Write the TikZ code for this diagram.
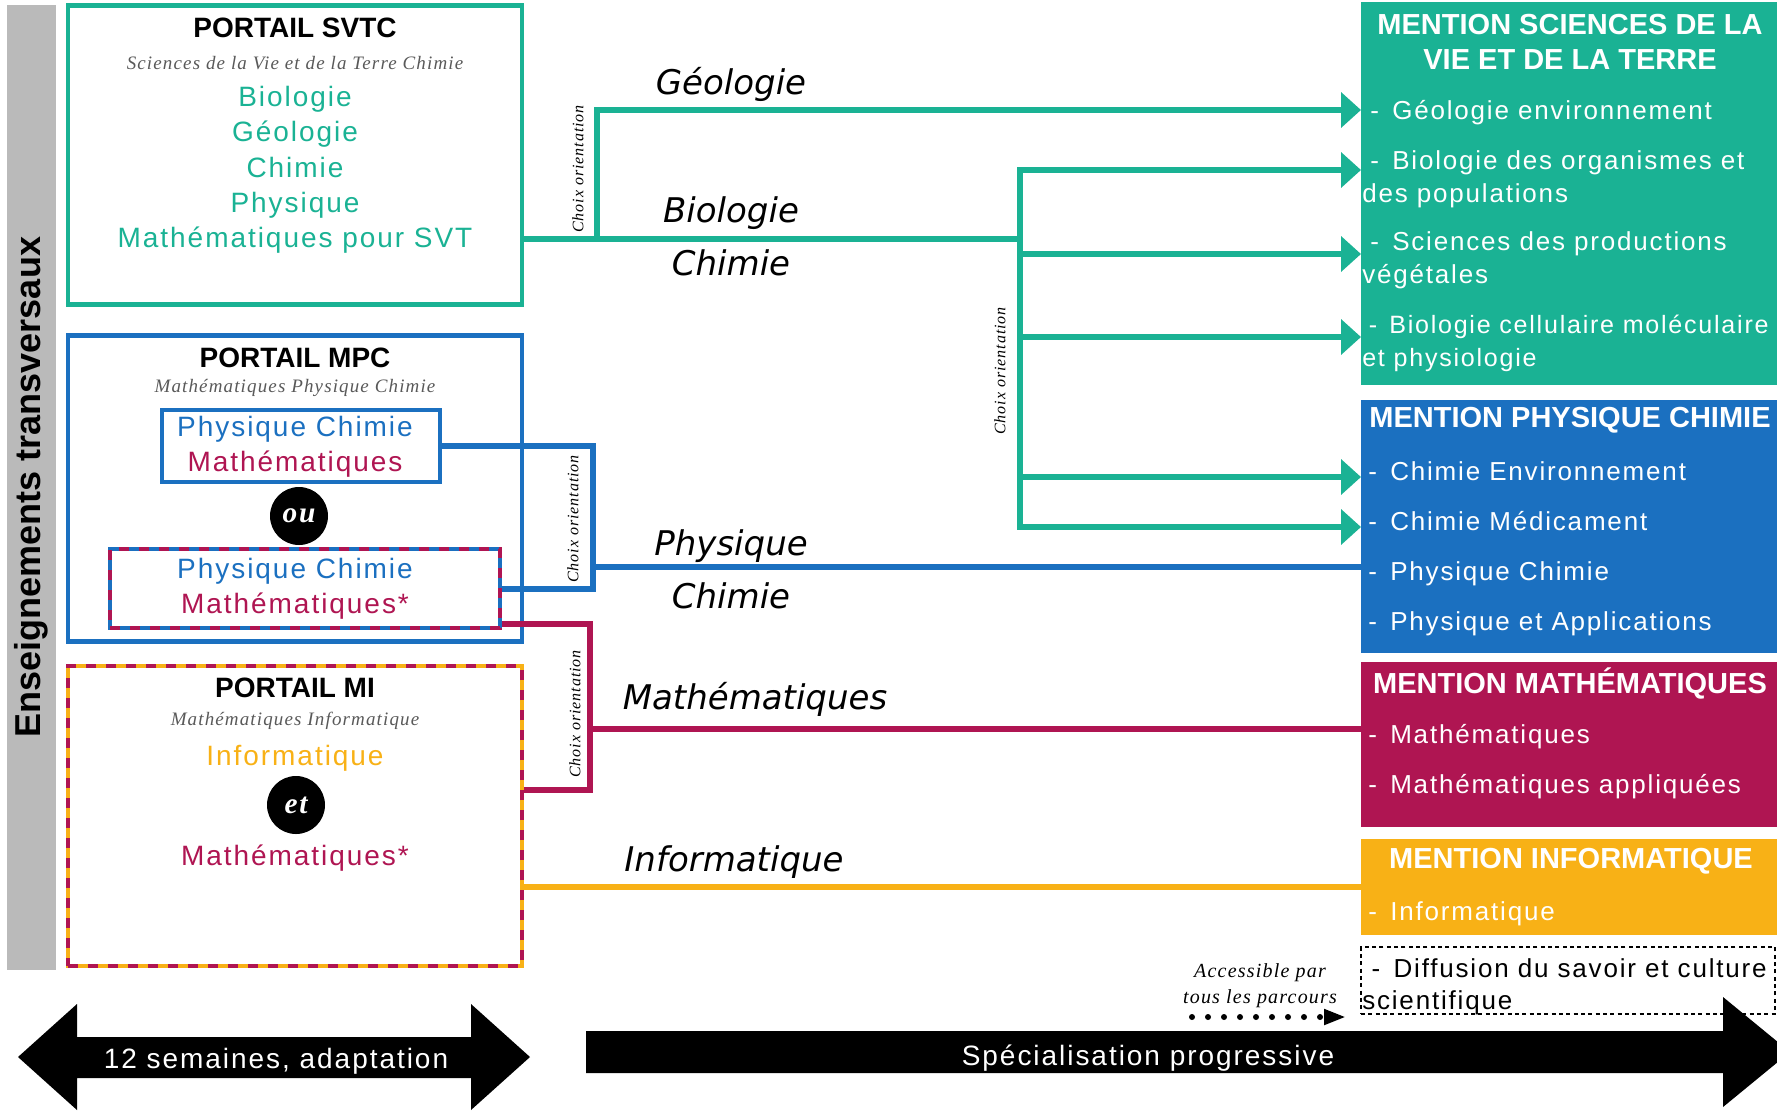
\documentclass[tikz,border=0pt]{standalone}
\usepackage{fontspec}
\setmainfont{Liberation Sans}
\newfontfamily\spacedfont{Liberation Sans}[LetterSpace=7]
\newfontfamily\notefont{Liberation Serif}[LetterSpace=6]
\newfontfamily\routefont{DejaVu Sans}
\usetikzlibrary{arrows.meta,fit}

\definecolor{svtgreen}{HTML}{1AB294}
\definecolor{pcblue}{HTML}{1B70C0}
\definecolor{mathred}{HTML}{AF1552}
\definecolor{infoorange}{HTML}{F8B116}
\definecolor{bargrey}{HTML}{BABABA}
\definecolor{subgrey}{HTML}{595959}

\begin{document}
\begin{tikzpicture}[x=0.75pt, y=-0.75pt,
    box/.style={inner sep=0pt, line width=3.5pt},
    mention/.style={inner sep=0pt, outer sep=0pt},
    portaltitle/.style={font=\fontsize{21}{25}\selectfont\bfseries},
    portalsub/.style={font=\notefont\fontsize{14.25}{17}\selectfont\itshape, text=subgrey},
    subject/.style={font=\spacedfont\fontsize{21}{26.5}\selectfont, align=center},
    bubble/.style={circle, fill=black, minimum size=43.5pt, inner sep=0pt, text=white, font=\notefont\fontsize{22}{24}\selectfont\bfseries\itshape},
    choix/.style={font=\notefont\fontsize{12}{14}\selectfont\itshape, rotate=90},
    route/.style={font=\routefont\fontsize{25.5}{30}\selectfont\itshape},
    link/.style={line width=4.5pt},
    tip/.style={link, -{Triangle[length=15pt,width=26pt]}},
    mhead/.style={font=\fontsize{21.75}{26.25}\selectfont\bfseries, text=white, align=center},
    mitem/.style={font=\spacedfont\fontsize{19.5}{24.75}\selectfont, text=white, align=left, anchor=base west, inner sep=0pt},
    bigtext/.style={font=\spacedfont\fontsize{21}{25}\selectfont, text=white}]

    \useasboundingbox (0,0) rectangle (1777,1111);

    % bande de gauche
    \node[fit={(7,5)(56,970)}, inner sep=0pt, fill=bargrey] (bar) {};
    \node[rotate=90, font=\fontsize{27}{30}\selectfont\bfseries] (transv) at (31,487) {Enseignements transversaux};

    % portails
    \node[box, draw=svtgreen, fit={(68,5.5)(522,304.5)}] (svtc) {};
    \node[portaltitle] (svtctitle) at (295,28) {PORTAIL SVTC};
    \node[portalsub] (svtcsub) at (295,63) {Sciences de la Vie et de la Terre Chimie};
    \node[subject, text=svtgreen] (svtcsubj) at (295,170) {Biologie\\Géologie\\Chimie\\Physique\\Mathématiques pour SVT};

    \node[box, draw=pcblue, fit={(68,335.5)(522,641.5)}] (mpc) {};
    \node[portaltitle] (mpctitle) at (295,358) {PORTAIL MPC};
    \node[portalsub] (mpcsub) at (295,388) {Mathématiques Physique Chimie};
    \node[box, draw=pcblue, fit={(162,410)(440,482)}] (pcbox) {};
    \node[subject] (pctext) at (295,447) {\textcolor{pcblue}{Physique Chimie}\\\textcolor{mathred}{Mathématiques}};
    \node[bubble] (ou) at (299,516) {ou};
    \node[box, draw=pcblue, postaction={draw=mathred, dash pattern=on 7.5pt off 7.5pt}, fit={(110,549)(500,628)}] (pcstar) {};
    \node[subject] (pcstartext) at (295,589) {\textcolor{pcblue}{Physique Chimie}\\\textcolor{mathred}{Mathématiques*}};

    \node[box, draw=infoorange, postaction={draw=mathred, dash pattern=on 7.5pt off 7.5pt}, fit={(68,666)(522,966)}] (mi) {};
    \node[portaltitle] (mititle) at (295,688) {PORTAIL MI};
    \node[portalsub] (misub) at (295,721) {Mathématiques Informatique};
    \node[subject, text=infoorange] (miinfo) at (295,758) {Informatique};
    \node[bubble] (et) at (296,805) {et};
    \node[subject, text=mathred] (mimath) at (295,858) {Mathématiques*};

    % mentions
    \node[mention, fill=svtgreen, fit={(1361,2)(1777,385)}] (svtm) {};
    \node[mhead] (svthead) at (1570,41.5) {MENTION SCIENCES DE LA\\VIE ET DE LA TERRE};
    \node[mitem] (geoenv) at (1362,119) {\hspace*{6pt}-\hspace*{10pt}Géologie environnement};
    \node[mitem] (bop) at (1362,202) {\hspace*{6pt}-\hspace*{10pt}Biologie des organismes et\\des populations};
    \node[mitem] (spv) at (1362,283) {\hspace*{6pt}-\hspace*{10pt}Sciences des productions\\végétales};
    \node[mitem, font=\spacedfont\fontsize{18.8}{24.75}\selectfont] (bcmp) at (1362,366) {\hspace*{5pt}-\hspace*{9pt}Biologie cellulaire moléculaire\\et physiologie};

    \node[mention, fill=pcblue, fit={(1361,400)(1777,653)}] (pcm) {};
    \node[mhead] (pchead) at (1570,420) {MENTION PHYSIQUE CHIMIE};
    \node[mitem] (chenv) at (1362,480) {\hspace*{4.5pt}-\hspace*{10pt}Chimie Environnement};
    \node[mitem] (chmed) at (1362,530) {\hspace*{4.5pt}-\hspace*{10pt}Chimie Médicament};
    \node[mitem] (phch) at (1362,580) {\hspace*{4.5pt}-\hspace*{10pt}Physique Chimie};
    \node[mitem] (phap) at (1362,630) {\hspace*{4.5pt}-\hspace*{10pt}Physique et Applications};

    \node[mention, fill=mathred, fit={(1361,662)(1777,827)}] (mathm) {};
    \node[mhead] (mathhead) at (1570,683) {MENTION MATHÉMATIQUES};
    \node[mitem] (maths) at (1362,743) {\hspace*{4.5pt}-\hspace*{10pt}Mathématiques};
    \node[mitem] (mapp) at (1362,793) {\hspace*{4.5pt}-\hspace*{10pt}Mathématiques appliquées};

    \node[mention, fill=infoorange, fit={(1361,839)(1777,935)}] (infom) {};
    \node[mhead] (infohead) at (1571,861) {MENTION INFORMATIQUE};
    \node[mitem] (info) at (1362,920) {\hspace*{4.5pt}-\hspace*{10pt}Informatique};

    \node[mention, draw, line width=1.5pt, dash pattern=on 3pt off 2.5pt, fit={(1361,947)(1775,1014)}] (diffm) {};
    \node[mitem, text=black, font=\spacedfont\fontsize{19.5}{24}\selectfont] (diff) at (1362,1009) {\hspace*{7pt}-\hspace*{10pt}Diffusion du savoir et culture\\scientifique};

    % liaisons
    \coordinate (jsvt) at (597,239);
    \coordinate (jbio) at (1020,239);
    \coordinate (jgeo) at (597,110);
    \coordinate (b1) at (1020,170);
    \coordinate (b2) at (1020,254);
    \coordinate (b3) at (1020,337);
    \coordinate (b4) at (1020,477);
    \coordinate (b5) at (1020,527);
    \draw[link, svtgreen] (svtc.east |- jsvt) -- (jbio);
    \draw[tip, svtgreen] (jsvt) |- (jgeo -| svtm.west);
    \draw[link, svtgreen, line cap=rect] (b1) -- (b5);
    \foreach \b in {b1,b2,b3}
        \draw[tip, svtgreen] (\b) -- (\b -| svtm.west);
    \foreach \b in {b4,b5}
        \draw[tip, svtgreen] (\b) -- (\b -| pcm.west);

    \coordinate (jpc) at (593,567);
    \draw[link, pcblue] (pcbox.east) -| (jpc) |- (pcstar.east);
    \draw[link, pcblue] (jpc) -- (jpc -| pcm.west);

    \coordinate (jmath) at (590,729);
    \coordinate (jmib) at (590,790);
    \draw[link, mathred] ([yshift=4.5pt]pcstar.south east) -| (jmib) -- (jmib -| mi.east);
    \draw[link, mathred] (jmath) -- (jmath -| mathm.west);

    \coordinate (jinfo) at (600,887);
    \draw[link, infoorange] (jinfo -| mi.east) -- (jinfo -| infom.west);

    \node[route] (lgeo) at (731,84) {Géologie};
    \node[route] (lbio) at (731,213) {Biologie};
    \node[route] (lchim) at (731,263) {Chimie};
    \node[route] (lphys) at (731,546) {Physique};
    \node[route] (lchim2) at (731,596) {Chimie};
    \node[route] (lmath) at (755,699) {Mathématiques};
    \node[route] (linfo) at (734,862) {Informatique};

    \node[choix] (choix1) at (578,169) {Choix orientation};
    \node[choix] (choix2) at (573,519) {Choix orientation};
    \node[choix] (choix3) at (575,714) {Choix orientation};
    \node[choix] (choix4) at (1000,371) {Choix orientation};

    % acces libre
    \node[font=\notefont\fontsize{15}{19.5}\selectfont\itshape, align=center] (acces) at (1260,986) {Accessible par\\tous les parcours};
    \coordinate (dstart) at (1192,1017);
    \coordinate (dend) at (1346,1017);
    \draw[line width=4.5pt, line cap=round, dash pattern=on 0pt off 12pt, -{Triangle[length=16.5pt,width=11pt]}] (dstart) -- (dend);

    % fleches du bas
    \fill (18,1057) -- (77,1004) -- (77,1037) -- (471,1037) -- (471,1004) -- (530,1057) -- (471,1110) -- (471,1078) -- (77,1078) -- (77,1110) -- cycle;
    \node[bigtext] (adapt) at (276,1061) {12 semaines, adaptation};
    \fill (586,1031) -- (1723,1031) -- (1723,997) -- (1790,1052) -- (1723,1107) -- (1723,1073) -- (586,1073) -- cycle;
    \node[bigtext] (spec) at (1148,1058) {Spécialisation progressive};
\end{tikzpicture}
\end{document}
